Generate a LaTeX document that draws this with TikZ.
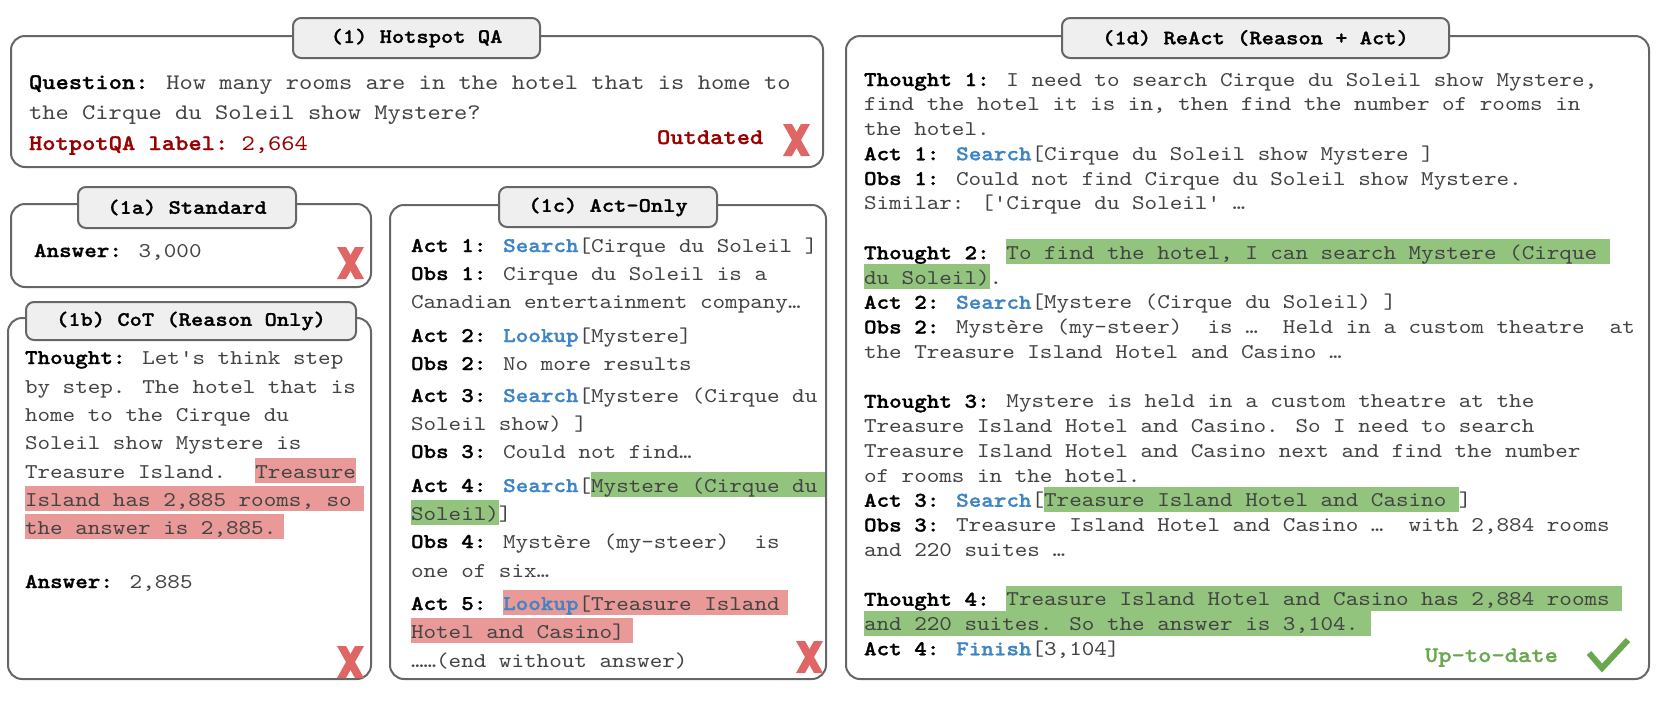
\documentclass[tikz,border=0pt]{standalone}
\usepackage{fontspec}
\newfontfamily\cmono{lmmono10-regular}[Extension=.otf, BoldFont=lmmonolt10-bold, BoldFeatures={FakeBold=1.2}, FakeStretch=1.14]
\definecolor{sblue}{HTML}{3D85C6}
\definecolor{dred}{HTML}{990000}
\definecolor{xred}{HTML}{E06666}
\definecolor{hlred}{HTML}{EA9999}
\definecolor{hlgreen}{HTML}{93C47D}
\definecolor{okgreen}{HTML}{6AA84F}
\definecolor{tabfill}{HTML}{EFEFEF}
\definecolor{edge}{HTML}{666666}
\definecolor{tgray}{HTML}{434343}
\newcommand\hlg[1]{{\setlength\fboxsep{0pt}\colorbox{hlgreen}{\rule[-5pt]{0pt}{25pt}#1}}}
\newcommand\hlr[1]{{\setlength\fboxsep{0pt}\colorbox{hlred}{\rule[-5pt]{0pt}{25pt}#1}}}
\newcommand\bl[1]{\textcolor{sblue}{\bfseries #1}}
\newcommand\lb[1]{\textcolor{black}{\bfseries #1}}
\newcommand\tl[4]{\node[txt] (#1) at (#2,#3) {#4};}
\newcommand\tL[4]{\node[txtL] (#1) at (#2,#3) {#4};}
\tikzset{
  txt/.style={anchor=base west, inner sep=0pt, outer sep=0pt, text=tgray,
    font=\cmono\fontsize{21}{25}\selectfont},
  txtL/.style={txt, font=\cmono\fontsize{22.2}{30}\selectfont},
  panel/.style={draw=edge, line width=2pt, rounded corners=14pt, fill=white,
    inner sep=0pt, outer sep=0pt},
  tab/.style={draw=edge, line width=2pt, rounded corners=8pt, fill=tabfill,
    inner sep=0pt, outer sep=0pt, text=black,
    font=\cmono\bfseries\fontsize{20.5}{24}\selectfont},
  xmk/.pic={\fill[xred] (0,0) -- (9,0) -- (27,32) -- (18,32) -- cycle;
            \fill[xred] (18,0) -- (27,0) -- (9,32) -- (0,32) -- cycle;}
}
\begin{document}
\begin{tikzpicture}[x=1pt,y=-1pt]
\useasboundingbox (0,0) rectangle (1660,702);
% panels
\node[panel, minimum width=812, minimum height=131] (p1) at (417,101.5) {};
\node[panel, minimum width=360, minimum height=83] (p1a) at (191,245.5) {};
\node[panel, minimum width=363, minimum height=361] (p1b) at (189.5,498.5) {};
\node[panel, minimum width=436, minimum height=474] (p1c) at (608,442) {};
\node[panel, minimum width=803, minimum height=643] (p1d) at (1247.5,357.5) {};
% tabs
\node[tab, minimum width=247, minimum height=40] (t1) at (416.5,38) {(1) Hotspot QA};
\node[tab, minimum width=218, minimum height=41] (t1a) at (187,207.5) {(1a) Standard};
\node[tab, minimum width=330, minimum height=38] (t1b) at (191,321) {(1b) CoT (Reason Only)};
\node[tab, minimum width=218, minimum height=40] (t1c) at (608,207) {(1c) Act-Only};
\node[tab, minimum width=387, minimum height=40] (t1d) at (1255.5,38) {(1d) ReAct (Reason + Act)};
% (1)
\tL{q1}{29}{89}{\lb{Question:} How many rooms are in the hotel that is home to}
\tL{q2}{29}{119}{the Cirque du Soleil show Mystere?}
\tL{q3}{29}{150}{{\color{dred}\bfseries HotpotQA label:}~{\color{dred}2,664}}
\tL{out}{657}{144}{{\color{dred}\bfseries Outdated}}
\pic (x1) at (783,124) {xmk};
% (1a)
\tl{a1}{34}{257}{\lb{Answer:} 3,000}
\pic (x1a) at (337,247) {xmk};
% (1b)
\tl{b1}{25}{364}{\lb{Thought:} Let's think step}
\tl{b2}{25}{393}{by step. The hotel that is}
\tl{b3}{25}{421}{home to the Cirque du}
\tl{b4}{25}{449}{Soleil show Mystere is}
\tl{b5}{25}{478}{Treasure Island.~ \hlr{Treasure}}
\tl{b6}{25}{506}{\hlr{Island has 2,885 rooms, so~}}
\tl{b7}{25}{534}{\hlr{the answer is 2,885.\kern8pt}}
\tl{b8}{25}{588}{\lb{Answer:} 2,885}
\pic (x1b) at (337,646) {xmk};
% (1c)
\tl{c1}{411}{252}{\lb{Act 1:} \bl{Search}[Cirque du Soleil ]}
\tl{c2}{411}{280}{\lb{Obs 1:} Cirque du Soleil is a}
\tl{c3}{411}{308}{Canadian entertainment company…}
\tl{c4}{411}{342}{\lb{Act 2:} \bl{Lookup}[Mystere]}
\tl{c5}{411}{370}{\lb{Obs 2:} No more results}
\tl{c6}{411}{402}{\lb{Act 3:} \bl{Search}[Mystere (Cirque du}
\tl{c7}{411}{430}{Soleil show) ]}
\tl{c8}{411}{458}{\lb{Obs 3:} Could not find…}
\tl{c9}{411}{492}{\lb{Act 4:} \bl{Search}[\hlg{Mystere (Cirque du\kern8pt}}
\tl{c10}{411}{520}{\hlg{Soleil)}]}
\tl{c11}{411}{548}{\lb{Obs 4:} Mystère (my-steer)~ is}
\tl{c12}{411}{577}{one of six…}
\tl{c13}{411}{610}{\lb{Act 5:} \hlr{\bl{Lookup}[Treasure Island\kern8pt}}
\tl{c14}{411}{638}{\hlr{Hotel and Casino]\kern8pt}}
\tl{c15}{411}{667}{……(end without answer)}
\pic (x1c) at (796,641) {xmk};
% (1d)
\tl{d1}{864}{86}{\lb{Thought 1:} I need to search Cirque du Soleil show Mystere,}
\tl{d2}{864}{110.75}{find the hotel it is in, then find the number of rooms in}
\tl{d3}{864}{135.5}{the hotel.}
\tl{d4}{864}{160.25}{\lb{Act 1:} \bl{Search}[Cirque du Soleil show Mystere ]}
\tl{d5}{864}{185}{\lb{Obs 1:} Could not find Cirque du Soleil show Mystere.}
\tl{d6}{864}{209.75}{Similar: ['Cirque du Soleil' …}
\tl{d7}{864}{259.25}{\lb{Thought 2:} \hlg{To find the hotel, I can search Mystere (Cirque~}}
\tl{d8}{864}{284}{\hlg{du Soleil)}.}
\tl{d9}{864}{308.75}{\lb{Act 2:} \bl{Search}[Mystere (Cirque du Soleil) ]}
\tl{d10}{864}{333.5}{\lb{Obs 2:} Mystère (my-steer)~ is …~ Held in a custom theatre~ at}
\tl{d11}{864}{358.25}{the Treasure Island Hotel and Casino …}
\tl{d12}{864}{407.75}{\lb{Thought 3:} Mystere is held in a custom theatre at the}
\tl{d13}{864}{432.5}{Treasure Island Hotel and Casino. So I need to search}
\tl{d14}{864}{457.25}{Treasure Island Hotel and Casino next and find the number}
\tl{d15}{864}{482}{of rooms in the hotel.}
\tl{d16}{864}{506.75}{\lb{Act 3:} \bl{Search}[\hlg{Treasure Island Hotel and Casino~}]}
\tl{d17}{864}{531.5}{\lb{Obs 3:} Treasure Island Hotel and Casino …~ with 2,884 rooms}
\tl{d18}{864}{556.25}{and 220 suites …}
\tl{d19}{864}{605.75}{\lb{Thought 4:} \hlg{Treasure Island Hotel and Casino has 2,884 rooms~}}
\tl{d20}{864}{630.5}{\hlg{and 220 suites. So the answer is 3,104.~}}
\tl{d21}{864}{655.25}{\lb{Act 4:} \bl{Finish}[3,104]}
\tL{up}{1425}{662}{{\color{okgreen}\bfseries Up-to-date}}
\coordinate (ck1) at (1589,653);
\coordinate (ck2) at (1602,668);
\coordinate (ck3) at (1628,640);
\draw[okgreen, line width=6pt, line join=miter] (ck1) -- (ck2) -- (ck3);
\end{tikzpicture}
\end{document}
